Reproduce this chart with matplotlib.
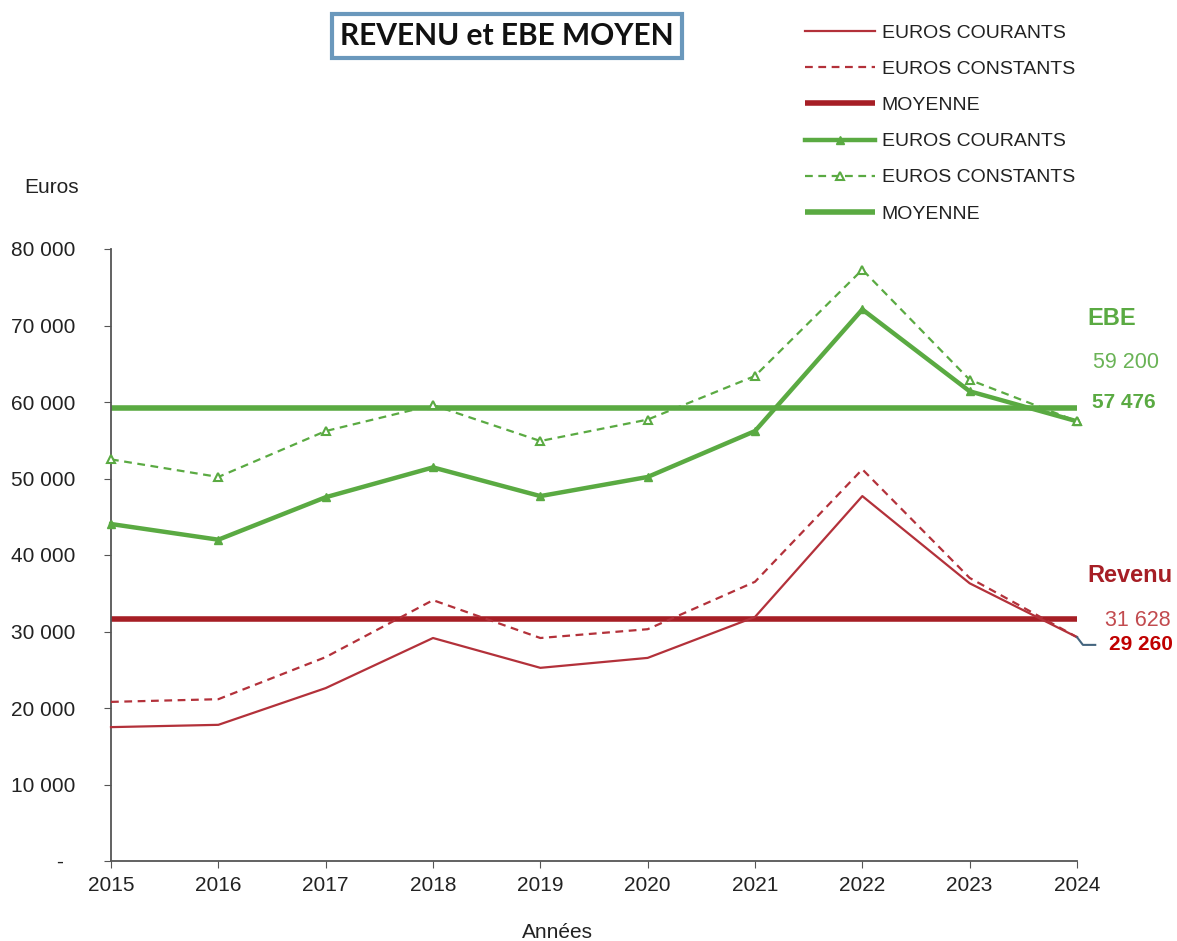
import matplotlib
matplotlib.use("Agg")
import matplotlib.pyplot as plt
from matplotlib.ticker import FuncFormatter

plt.rcParams['font.family'] = ['Liberation Sans', 'DejaVu Sans']

years = [2015, 2016, 2017, 2018, 2019, 2020, 2021, 2022, 2023, 2024]
revenu_courants = [17500, 17800, 22600, 29150, 25250, 26550, 31900, 47700, 36300, 29260]
revenu_constants = [20800, 21150, 26650, 34100, 29150, 30300, 36500, 51200, 37000, 29260]
revenu_moyenne = 31628
ebe_courants = [44050, 42000, 47550, 51450, 47700, 50200, 56200, 72100, 61400, 57476]
ebe_constants = [52500, 50200, 56200, 59600, 54900, 57700, 63400, 77300, 62900, 57476]
ebe_moyenne = 59200
yticks = [0, 10000, 20000, 30000, 40000, 50000, 60000, 70000, 80000]

RED = '#B3313A'
RED_DARK = '#A61E25'
GREEN = '#5AAA42'

fig = plt.figure(figsize=(11.77, 9.41), dpi=100)
ax = fig.add_axes([111/1177, 80/941, (1077-111)/1177, (861-249)/941])

ax.plot(years, revenu_courants, color=RED, lw=1.6, label='EUROS COURANTS', clip_on=False, zorder=3)
ax.plot(years, revenu_constants, color=RED, lw=1.6, ls=(0, (3.5, 2.5)), label='EUROS CONSTANTS', clip_on=False, zorder=3)
ax.plot([years[0], years[-1]], [revenu_moyenne]*2, color=RED_DARK, lw=4, label='MOYENNE', clip_on=False, zorder=2, solid_capstyle='butt')
ax.plot(years, ebe_courants, color=GREEN, lw=3.2, marker='^', ms=6, mfc=GREEN, mec=GREEN, label='EUROS COURANTS', clip_on=False, zorder=3)
ax.plot(years, ebe_constants, color=GREEN, lw=1.6, ls=(0, (3.5, 2.5)), marker='^', ms=6, mfc='white', mec=GREEN, mew=1.5, label='EUROS CONSTANTS', clip_on=False, zorder=3)
ax.plot([years[0], years[-1]], [ebe_moyenne]*2, color=GREEN, lw=4, label='MOYENNE', clip_on=False, zorder=2, solid_capstyle='butt')

# leader line for last revenu value
ax.plot([2024, 2024.055, 2024.17], [revenu_courants[-1], 28250, 28250], color='#44657F', lw=1.5, clip_on=False, zorder=4)

ax.set_xlim(2015, 2024)
ax.set_ylim(0, 80000)
ax.set_xticks(years)
ax.set_xticklabels([str(y) for y in years], fontsize=15)
ax.set_yticks(yticks)
ax.yaxis.set_major_formatter(FuncFormatter(lambda v, p: '-  ' if v == 0 else f"{int(v):,}".replace(',', ' ')))
ax.tick_params(axis='y', labelsize=15, direction='out', length=5, pad=20.5, color='#555555', labelcolor='#222222')
ax.tick_params(axis='x', direction='out', length=5, pad=6, color='#555555', labelcolor='#222222')
for s in ['top', 'right']:
    ax.spines[s].set_visible(False)
for s in ['left', 'bottom']:
    ax.spines[s].set_color('#555555')
    ax.spines[s].set_linewidth(1.3)

fig.text(52/1177, 1-187/941, 'Euros', fontsize=15, ha='center', va='center', color='#222222')
fig.text(557/1177, 1-933/941, 'Années', fontsize=15, ha='center', va='center', color='#222222')

# side labels
fig.text(1112/1177, 1-318/941, 'EBE', fontsize=17, fontweight='bold', color=GREEN, ha='center', va='center')
fig.text(1126/1177, 1-362/941, '59 200', fontsize=15.5, color='#6AB356', ha='center', va='center')
fig.text(1124/1177, 1-403/941, '57 476', fontsize=15, fontweight='bold', color=GREEN, ha='center', va='center')
fig.text(1130/1177, 1-575/941, 'Revenu', fontsize=17, fontweight='bold', color=RED_DARK, ha='center', va='center')
fig.text(1138/1177, 1-620/941, '31 628', fontsize=15.5, color='#C24B4F', ha='center', va='center')
fig.text(1141/1177, 1-645/941, '29 260', fontsize=15, fontweight='bold', color='#C00000', ha='center', va='center')

# title
fig.text(507/1177, 1-36/941, 'REVENU et EBE MOYEN', fontsize=21.5, fontweight='bold', family=['Lato', 'DejaVu Sans'],
         ha='center', va='center', color='#111111',
         bbox=dict(boxstyle='square,pad=0.28', fc='white', ec='#6A98BC', lw=3))

handles, labels = ax.get_legend_handles_labels()
leg = fig.legend(handles, labels, loc='upper left', bbox_to_anchor=(787/1177, 1-7/941), frameon=False,
                 fontsize=14, handlelength=3.6, handletextpad=0.36, labelspacing=0.95)
for t in leg.get_texts():
    t.set_color('#222222')

fig.savefig('out.png', dpi=100)
